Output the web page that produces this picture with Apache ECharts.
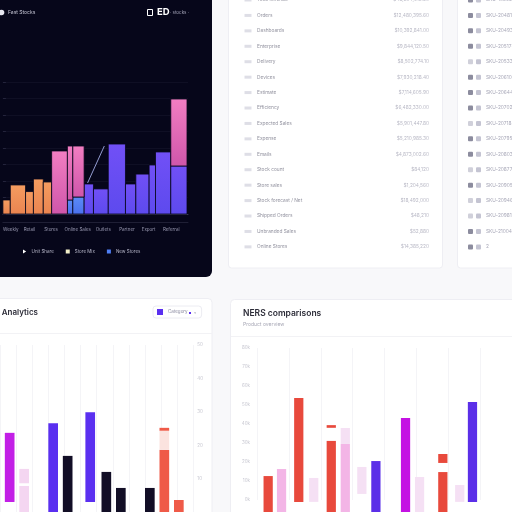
<!doctype html>
<html lang="en">
<head>
<meta charset="utf-8">
<title>Sales dashboard</title>
<script src="https://cdn.jsdelivr.net/npm/echarts@6/dist/echarts.min.js"></script>
<style>
  html, body { margin: 0; padding: 0; background: #f8f8fa; }
  #chart { width: 512px; height: 512px; }
</style>
</head>
<body>
<div id="chart"></div>
<script>
// ---- dark card: stacked histogram (bin edges + one value per bin for each layer)
let binEdges   = [0, 7.5, 23, 31, 41, 49.5, 65.5, 71, 82.5, 92, 107, 124.5, 135, 148.5, 155, 170.5, 187];
let orangeVals = [8.5, 17.6, 13.6, 21.2, 19.4, 0, 0, 0, 0, 0, 0, 0, 0, 0, 0, 0];
let blueVals   = [0, 0, 0, 0, 0, 0, 8.5, 10.3, 0, 0, 0, 0, 0, 0, 0, 0];
let purpleVals = [0, 0, 0, 0, 0, 0, 0, 0, 18.2, 15.2, 42.4, 18.2, 24.2, 29.7, 37.6, 29.1];
let pinkVals   = [0, 0, 0, 0, 0, 38.2, 32.7, 30.9, 0, 0, 0, 0, 0, 0, 0, 40.6];
let trendX = [86, 103];
let trendY = [18.8, 41.2];
let darkLabelAt = [8, 27, 49, 76, 102, 126, 148, 171];
let darkLabels  = ['Weekly', 'Retail', 'Stores', 'Online Sales', 'Outlets', 'Partner', 'Export', 'Referral'];

// ---- bottom-left card: floating bars [x, low, high]
let blMagenta = [[0.6, 3, 23.7]];
let blLight   = [[1.5, 0, 7.8], [1.5, 8.6, 12.9]];
let blPurple  = [[3.3, 0, 26.6], [5.6, 3, 29.9]];
let blDark    = [[4.2, 0, 16.8], [6.6, 0, 12.0], [7.5, 0, 7.2], [9.3, 0, 7.2]];
let blRed     = [[10.2, 0, 18.6], [11.1, 0, 3.6], [10.2, 24.3, 25.2]];
let blRedFade = [[10.2, 18.6, 24.3]];

// ---- bottom-right card: floating bars [x, low, high]
let brRed     = [[0.35, -7, 12.6], [1.31, -1, 53.7], [2.33, -7, 31.1], [2.33, 38, 39.4], [5.83, -7, 14.7], [5.83, 19.5, 24.2]];
let brPink    = [[0.77, -7, 16.3], [2.77, -7, 29.5]];
let brLight   = [[1.78, -1, 11.6], [2.77, 29.5, 37.9], [3.29, 3.2, 17.4], [5.10, -7, 12.1], [6.36, -1, 7.9]];
let brPurple  = [[3.73, -7, 20.5], [6.76, -1, 51.6]];
let brMagenta = [[4.66, -7, 43.2]];

// ---- list cards
let metricNames  = ['Total revenue', 'Orders', 'Dashboards', 'Enterprise', 'Delivery', 'Devices', 'Estimate', 'Efficiency',
                    'Expected Sales', 'Expense', 'Emails', 'Stock count', 'Store sales', 'Stock forecast / Net',
                    'Shipped Orders', 'Unbranded Sales', 'Online Stores'];
let metricValues = ['$48,204,913.20', '$12,480,395.60', '$10,392,841.00', '$9,844,120.50', '$8,502,774.10', '$7,930,218.40',
                    '$7,114,605.90', '$6,482,330.00', '$5,901,447.80', '$5,210,985.30', '$4,873,002.60', '$84,120',
                    '$1,204,560', '$18,492,000', '$48,210', '$52,880', '$14,385,220'];
let skuCodes = ['SKU-10392-BR', 'SKU-20481-NA', 'SKU-20493-NA', 'SKU-20517-EU', 'SKU-20533-EU', 'SKU-20610-AP',
                'SKU-20644-AP', 'SKU-20702-LA', 'SKU-20718-LA', 'SKU-20795-NA', 'SKU-20803-NA', 'SKU-20877-EU',
                'SKU-20905-EU', 'SKU-20946-AP', 'SKU-20981-AP', 'SKU-21004-NA', '2'];
let skuFlag = [1, 1, 1, 1, 0, 1, 1, 1, 0, 1, 1, 0, 1, 0, 0, 1, 1];

let chart = echarts.init(document.getElementById('chart'));

function stackBins(layers) {
  let base = binEdges.slice(1).map(() => 0);
  return layers.map(function (vals) {
    let out = [];
    vals.forEach(function (v, i) {
      if (v > 0) out.push([binEdges[i], binEdges[i + 1], base[i], base[i] + v]);
      base[i] += v;
    });
    return out;
  });
}
let stacked = stackBins([orangeVals, blueVals, purpleVals, pinkVals]);

function histRect(params, api) {
  let p0 = api.coord([api.value(0), api.value(3)]);
  let p1 = api.coord([api.value(1), api.value(2)]);
  return {
    type: 'rect',
    shape: { x: p0[0], y: p0[1], width: p1[0] - p0[0], height: p1[1] - p0[1] },
    style: api.style({ stroke: '#06061a', lineWidth: 0.8 })
  };
}

function floatBar(width) {
  return function (params, api) {
    let top = api.coord([api.value(0), api.value(2)]);
    let bot = api.coord([api.value(0), api.value(1)]);
    let w = api.size([width, 0])[0];
    return {
      type: 'rect',
      shape: { x: top[0] - w / 2, y: top[1], width: w, height: bot[1] - top[1] },
      style: api.style()
    };
  };
}

function grad(top, bottom) {
  return new echarts.graphic.LinearGradient(0, 0, 0, 1, [{ offset: 0, color: top }, { offset: 1, color: bottom }]);
}

function histSeries(name, data, color) {
  return { name: name, type: 'custom', xAxisIndex: 0, yAxisIndex: 0, renderItem: histRect,
           encode: { x: [0, 1], y: [2, 3] }, itemStyle: { color: color }, data: data };
}
function floatSeries(name, axis, width, data, color) {
  return { name: name, type: 'custom', xAxisIndex: axis, yAxisIndex: axis - 1, renderItem: floatBar(width),
           encode: { x: 0, y: [1, 2] }, itemStyle: { color: color }, data: data };
}

// ---- decoration: cards and texts
let F = 'Inter, Roboto, sans-serif';
let gfx = [];
function box(x, y, w, h, fill, stroke, r) {
  gfx.push({ type: 'rect', z: -10, shape: { x: x, y: y, width: w, height: h, r: r || 0 },
             style: { fill: fill, stroke: stroke || null, lineWidth: 1 } });
}
function hline(x1, x2, y, color) {
  gfx.push({ type: 'line', z: -9, shape: { x1: x1, y1: y, x2: x2, y2: y }, style: { stroke: color, lineWidth: 1 } });
}
function txt(x, y, s, color, size, weight, align) {
  gfx.push({ type: 'text', z: 10, x: x, y: y,
             style: { text: s, fill: color, font: (weight || 'normal') + ' ' + size + 'px ' + F,
                      align: align || 'left', verticalAlign: 'middle' } });
}

box(-10, -10, 222, 287, '#06061a', null, 6);
box(228.5, -10, 214, 278, '#ffffff', '#eeeef3', 3);
box(457.5, -10, 70, 278, '#ffffff', '#eeeef3', 3);
box(-10, 298.5, 222, 230, '#ffffff', '#eeeef3', 4);
box(230.5, 299.5, 300, 230, '#ffffff', '#eeeef3', 4);
hline(-10, 212, 333.5, '#f2f2f5');
hline(231, 512, 336.5, '#f2f2f5');

// dark card header
gfx.push({ type: 'circle', z: 10, shape: { cx: 1.5, cy: 12.5, r: 2.8 }, style: { fill: '#e6e6f0' } });
txt(8, 12.5, 'Fast Stocks', '#c6c6d6', 5);
gfx.push({ type: 'rect', z: 10, shape: { x: 147.5, y: 9.5, width: 5, height: 6 }, style: { fill: 'none', stroke: '#ffffff', lineWidth: 1 } });
txt(157, 12.5, 'ED', '#ffffff', 9.5, 'bold');
txt(170, 13, '· stocks ·', '#a8a8bc', 4.5);

// list card rows
metricNames.forEach(function (name, i) {
  let y = i * 15.43;
  gfx.push({ type: 'rect', z: 10, shape: { x: 244.5, y: y - 1.5, width: 7, height: 3 }, style: { fill: '#dedee6' } });
  txt(257, y, name, '#92929f', 4.8);
  txt(429, y, metricValues[i], '#b8b8c5', 4.8, 'normal', 'right');
});
skuCodes.forEach(function (code, i) {
  let y = i * 15.43;
  gfx.push({ type: 'rect', z: 10, shape: { x: 468, y: y - 2.5, width: 5, height: 5, r: 1 },
             style: { fill: skuFlag[i] ? '#8c8c9e' : '#d0d0da' } });
  gfx.push({ type: 'rect', z: 10, shape: { x: 476, y: y - 2.5, width: 5, height: 5, r: 1 }, style: { fill: '#c4c4d2' } });
  txt(486, y, code, '#a8a8b8', 4.8);
});

// bottom card headers
txt(38, 313, 'Sales Analytics', '#2c2c38', 8, '600', 'right');
gfx.push({ type: 'rect', z: 10, shape: { x: 189, y: 312, width: 2, height: 2 }, style: { fill: '#5a2ff0' } });
txt(194, 313, '˅', '#a0a0b0', 5);
txt(243, 313, 'NERS comparisons', '#2c2c38', 8.5, '600');
txt(243, 324, 'Product overview', '#a8a8b6', 5);

let option = {
  backgroundColor: '#f8f8fa',
  animation: false,
  graphic: gfx,
  legend: [
    { left: 18, top: 244, itemWidth: 4, itemHeight: 4, itemGap: 12, selectedMode: false,
      textStyle: { color: '#b4b4c6', fontSize: 4.5, fontFamily: F },
      data: [
        { name: 'Unit Share', icon: 'path://M0,0L8,5L0,10Z', itemStyle: { color: '#ffffff' } },
        { name: 'Store Mix', icon: 'rect', itemStyle: { color: '#f1eec8' } },
        { name: 'New Stores', icon: 'rect', itemStyle: { color: '#4f7ff5' } }
      ] },
    { left: 153, top: 306, itemWidth: 6, itemHeight: 6, selectedMode: false,
      padding: [3, 14, 3, 4], borderColor: '#ececf2', borderWidth: 1, borderRadius: 3,
      textStyle: { color: '#8a8aa0', fontSize: 4.5, fontFamily: F },
      data: [{ name: 'Category', icon: 'rect' }] }
  ],
  grid: [
    { left: 0, top: 82, width: 188, height: 132 },
    { left: -6.67, top: 345, width: 200, height: 167 },
    { left: 257, top: 348, width: 274.4, height: 152 }
  ],
  xAxis: [
    { gridIndex: 0, type: 'value', min: 0, max: 188, splitLine: { show: false },
      axisLine: { lineStyle: { color: '#3a3a52' } }, axisTick: { show: false },
      axisLabel: { customValues: darkLabelAt, formatter: function (v) { return darkLabels[darkLabelAt.indexOf(v)] || ''; },
                   color: '#9a9ab2', fontSize: 4.5, fontFamily: F, margin: 13 } },
    { gridIndex: 0, type: 'value', min: 0, max: 188, position: 'bottom', offset: 8, splitLine: { show: false },
      axisLine: { lineStyle: { color: '#1f1f35' } }, axisTick: { show: false }, axisLabel: { show: false } },
    { gridIndex: 1, type: 'value', min: 0, max: 12, interval: 1, axisLine: { show: false }, axisTick: { show: false },
      axisLabel: { show: false }, splitLine: { lineStyle: { color: '#f4f4f7' } } },
    { gridIndex: 2, type: 'value', min: 0, max: 8, interval: 1, axisLine: { show: false }, axisTick: { show: false },
      axisLabel: { show: false }, splitLine: { lineStyle: { color: '#f4f4f7' } } }
  ],
  yAxis: [
    { gridIndex: 0, type: 'value', min: 0, max: 80, interval: 10, position: 'right', axisLine: { show: false },
      axisTick: { show: true, length: 3, lineStyle: { color: '#24243c' } }, axisLabel: { show: false },
      splitLine: { lineStyle: { color: '#0f0f24' } } },
    { gridIndex: 1, type: 'value', min: 0, max: 50, interval: 10, position: 'right', axisLine: { show: false },
      axisTick: { show: false }, splitLine: { show: false },
      axisLabel: { color: '#c6c6d0', fontSize: 4.5, fontFamily: F, margin: 4, showMinLabel: false } },
    { gridIndex: 2, type: 'value', min: 0, max: 80, interval: 10, axisLine: { show: false },
      axisTick: { show: false }, splitLine: { show: false },
      axisLabel: { color: '#c6c6d0', fontSize: 4.5, fontFamily: F, margin: 7, formatter: function (v) { return v + 'k'; } } }
  ],
  series: [
    histSeries('Unit Share', stacked[0], grad('#f59c60', '#ea8450')),
    histSeries('New Stores', stacked[1], grad('#5b8cf6', '#4a70ee')),
    histSeries('Partners', stacked[2], grad('#7150f6', '#5d4aee')),
    histSeries('Store Mix', stacked[3], grad('#f27ec2', '#cf56aa')),
    { name: 'Trend', type: 'line', xAxisIndex: 0, yAxisIndex: 0, z: 5,
      data: trendX.map(function (x, i) { return [x, trendY[i]]; }),
      lineStyle: { color: '#b6c2ff', width: 0.8 }, symbol: 'circle', symbolSize: [0, 3.5],
      itemStyle: { color: '#dfe4ff' } },

    floatSeries('Magenta', 2, 0.6, blMagenta, '#c21fe6'),
    floatSeries('Light', 2, 0.6, blLight, '#f4d6f1'),
    floatSeries('Category', 2, 0.6, blPurple, '#5a2ff0'),
    floatSeries('Dark', 2, 0.6, blDark, '#120e26'),
    floatSeries('Red', 2, 0.6, blRed, '#ef5a48'),
    floatSeries('Red fade', 2, 0.6, blRedFade, '#fbe3df'),

    floatSeries('R red', 3, 0.29, brRed, '#e8493c'),
    floatSeries('R pink', 3, 0.29, brPink, '#f3b5e6'),
    floatSeries('R light', 3, 0.29, brLight, '#f5e0f4'),
    floatSeries('R purple', 3, 0.29, brPurple, '#5b2fe8'),
    floatSeries('R magenta', 3, 0.29, brMagenta, '#c411e3')
  ]
};
chart.setOption(option);
</script>
</body>
</html>
